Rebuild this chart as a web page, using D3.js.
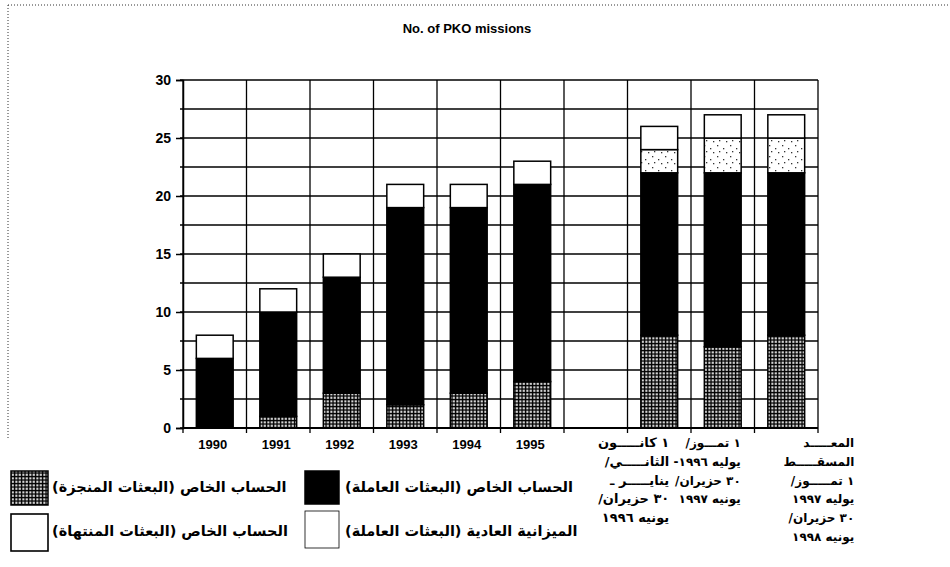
<!DOCTYPE html>
<html><head><meta charset="utf-8">
<script src="https://cdn.jsdelivr.net/npm/d3@7"></script>
<style>body{margin:0;background:#fff}svg{display:block}</style>
</head><body>
<svg id="chart" width="950" height="567"></svg>
<script>
// ---------------- data ----------------
const title = "No. of PKO missions";
const categories = ["1990","1991","1992","1993","1994","1995","gap","1996H1","1996-97","1997-98"];
const yearLabels = ["1990","1991","1992","1993","1994","1995","","","",""];
const arabicLabels = [
  [],[],[],[],[],[],[],
  ["١ كانـــــون","الثانـــــي/","ينايـــــر ـ","٣٠ حزيران/","يونيه ١٩٩٦"],
  ["١ تمـــوز/","يوليه ١٩٩٦-","٣٠ حزيران/","يونيه ١٩٩٧"],
  ["المعـــــد","المسقـــــط","١ تمـــــوز/","يوليه ١٩٩٧","٣٠ حزيران/","يونيه ١٩٩٨"]
];
const seriesKeys = ["completed","active","regular","closed"];
const seriesNames = [
  "الحساب الخاص (البعثات المنجزة)",
  "الحساب الخاص (البعثات العاملة)",
  "الميزانية العادية (البعثات العاملة)",
  "الحساب الخاص (البعثات المنتهاة)"
];
const completedVals = [0,1,3,2,3,4,0,8,7,8];
const activeVals    = [6,9,10,17,16,17,0,14,15,14];
const regularVals   = [0,0,0,0,0,0,0,2,3,3];
const closedVals    = [2,2,2,2,2,2,0,2,2,2];
const yTicks = [0,5,10,15,20,25,30];

// ---------------- layout ----------------
const svg = d3.select("#chart");
const mLeft = 183, mRight = 818, mTop = 80, mBottom = 428;
const labelRightOffset = {7: 10, 8: 18, 9: 68};
const labelFontSize = {7: 13, 8: 12, 9: 12};

const table = categories.map((c,i)=>({cat:c, completed:completedVals[i], active:activeVals[i], regular:regularVals[i], closed:closedVals[i]}));
const stacked = d3.stack().keys(seriesKeys)(table);

const x = d3.scaleBand().domain(categories).range([mLeft,mRight]).padding(0);
const y = d3.scaleLinear().domain([0,30]).range([mBottom,mTop]);
const barW = x.bandwidth()*0.58;

// patterns
const defs = svg.append("defs");
const hatch = defs.append("pattern").attr("id","hatch").attr("patternUnits","userSpaceOnUse").attr("width",3.5).attr("height",3.5);
hatch.append("rect").attr("width",3.5).attr("height",3.5).attr("fill","#000");
hatch.append("rect").attr("x",1.3).attr("y",1.3).attr("width",2).attr("height",2).attr("fill","#fff");
const stip = defs.append("pattern").attr("id","stipple").attr("patternUnits","userSpaceOnUse").attr("width",13).attr("height",11);
stip.append("rect").attr("width",13).attr("height",11).attr("fill","#fff");
[[2,2],[8,5],[4,8],[11,9]].forEach(p=>stip.append("rect").attr("x",p[0]).attr("y",p[1]).attr("width",1.3).attr("height",1.3).attr("fill","#333"));

const fills = {completed:"url(#hatch)", active:"#000", regular:"url(#stipple)", closed:"#fff"};

// dotted frame
svg.append("line").attr("x1",8).attr("x2",950).attr("y1",5).attr("y2",5).attr("stroke","#333").attr("stroke-width",1).attr("stroke-dasharray","1,2");
svg.append("line").attr("x1",8).attr("x2",8).attr("y1",5).attr("y2",440).attr("stroke","#333").attr("stroke-width",1).attr("stroke-dasharray","1,2");

// title
svg.append("text").attr("x",467).attr("y",33).attr("text-anchor","middle")
  .attr("font-family","Liberation Sans, Arial, sans-serif").attr("font-weight","bold").attr("font-size",13).text(title);

// horizontal grid
const grid = svg.append("g").attr("stroke","#000").attr("stroke-width",1.3);
d3.range(0,30.01,2.5).forEach(v=>{
  grid.append("line").attr("x1",mLeft-3).attr("x2",mRight).attr("y1",y(v)).attr("y2",y(v));
});
// vertical grid at band boundaries
categories.forEach(c=>{
  grid.append("line").attr("x1",x(c)).attr("x2",x(c)).attr("y1",mTop).attr("y2",mBottom+5);
});
grid.append("line").attr("x1",mRight).attr("x2",mRight).attr("y1",mTop).attr("y2",mBottom+5);

// y axis
const yAxis = d3.axisLeft(y).tickValues(yTicks).tickSize(7).tickPadding(5).tickFormat(d3.format("d"));
const ya = svg.append("g").attr("transform",`translate(${mLeft},0)`).call(yAxis);
ya.select(".domain").attr("stroke","#000").attr("stroke-width",1.5);
ya.selectAll(".tick line").attr("stroke","#000").attr("stroke-width",1.5);
ya.selectAll("text").attr("font-family","Liberation Sans, Arial, sans-serif").attr("font-weight","bold").attr("font-size",14).attr("fill","#000");

// x axis line
svg.append("line").attr("x1",mLeft).attr("x2",mRight).attr("y1",mBottom).attr("y2",mBottom).attr("stroke","#000").attr("stroke-width",1.8);

// bars
stacked.forEach(s=>{
  svg.append("g").selectAll("rect").data(s.filter(d=>d[1]-d[0]>0)).join("rect")
    .attr("x",d=>x(d.data.cat)+(x.bandwidth()-barW)/2)
    .attr("width",barW)
    .attr("y",d=>y(d[1]))
    .attr("height",d=>y(d[0])-y(d[1]))
    .attr("fill",fills[s.key])
    .attr("stroke","#000").attr("stroke-width",1.5);
});

// x labels: years
svg.append("g").selectAll("text").data(categories.filter((c,i)=>yearLabels[i])).join("text")
  .attr("x",c=>x(c)+x.bandwidth()/2-2).attr("y",449).attr("text-anchor","middle")
  .attr("font-family","Liberation Sans, Arial, sans-serif").attr("font-weight","bold").attr("font-size",13)
  .text(c=>yearLabels[categories.indexOf(c)]);

// x labels: Arabic multi-line
categories.forEach((c,i)=>{
  const lines = arabicLabels[i];
  if(!lines.length) return;
  const xr = x(c)+x.bandwidth()/2+labelRightOffset[i];
  lines.forEach((ln,j)=>{
    svg.append("text").attr("x",xr).attr("y",447+j*18.8)
      .attr("direction","rtl").attr("text-anchor","start")
      .attr("font-family","DejaVu Sans, sans-serif").attr("font-weight","bold").attr("font-size",labelFontSize[i])
      .text(ln);
  });
});

// legend
const legendItems = [
  {key:"completed", sx:11, sy:471, w:37, h:34, stroke:1.5, tx:52, ty:492},
  {key:"active",    sx:305, sy:471, w:34, h:33, stroke:1.5, tx:345, ty:492},
  {key:"closed",    sx:11, sy:514, w:37, h:37, stroke:1.6, tx:52, ty:536},
  {key:"regular",   sx:305, sy:511, w:34, h:37, stroke:0.8, tx:345, ty:536}
];
legendItems.forEach(it=>{
  svg.append("rect").attr("x",it.sx).attr("y",it.sy).attr("width",it.w).attr("height",it.h)
    .attr("fill", it.key==="regular" ? "#fff" : fills[it.key]).attr("stroke","#000").attr("stroke-width",it.stroke);
  svg.append("text").attr("x",it.tx).attr("y",it.ty)
    .attr("direction","rtl").attr("text-anchor","end")
    .attr("font-family","DejaVu Sans, sans-serif").attr("font-weight","bold").attr("font-size",14.5)
    .text(seriesNames[seriesKeys.indexOf(it.key)]);
});
</script>
</body></html>
